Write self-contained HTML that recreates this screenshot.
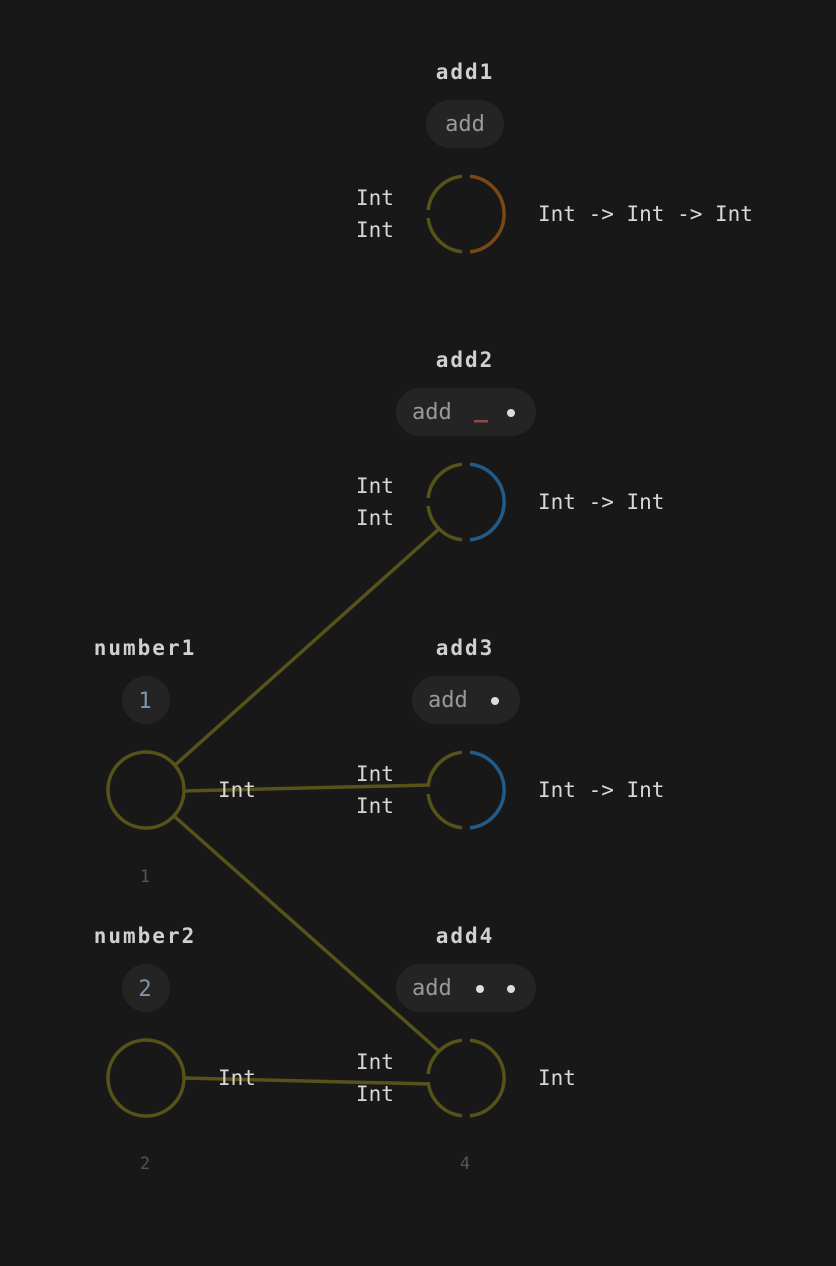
<!DOCTYPE html>
<html><head><style>
html,body{margin:0;padding:0;background:#181818;}
svg{display:block}
text{font-family:"DejaVu Sans Mono","Liberation Mono",monospace;}
.t{fill:#d0d0d0;font-size:21px;font-weight:bold;text-anchor:middle;letter-spacing:2px}
.l{fill:#d8d8d8;font-size:21px}
.p{fill:#9a9a9a;font-size:22px}
.n{fill:#555;font-size:17px;text-anchor:middle}
.ol{stroke:#56521a;stroke-width:3.5;fill:none}
</style></head><body>
<svg width="836" height="1266" viewBox="0 0 836 1266">
<defs>
<g id="ul"><path d="M -4 -37.8 A 38 38 0 0 0 -37.8 -4" class="ol"/><path d="M -37.8 4 A 38 38 0 0 0 -4 37.8" class="ol"/></g>
</defs>
<line x1="174" y1="766" x2="440" y2="528" class="ol"/>
<line x1="183" y1="791" x2="430" y2="785" class="ol"/>
<line x1="174" y1="816" x2="440" y2="1052" class="ol"/>
<line x1="183" y1="1078" x2="430" y2="1084" class="ol"/>

<text x="465" y="79" class="t">add1</text>
<rect x="426" y="100" width="78" height="48" rx="24" fill="#242424"/>
<text x="465" y="131" class="p" text-anchor="middle">add</text>
<g transform="translate(466,214)"><use href="#ul"/><path d="M 4 -37.8 A 38 38 0 0 1 4 37.8" fill="none" stroke="#7a4716" stroke-width="3.5"/></g>
<text x="356" y="205" class="l">Int</text><text x="356" y="237" class="l">Int</text>
<text x="538" y="221" class="l">Int -&gt; Int -&gt; Int</text>

<text x="465" y="367" class="t">add2</text>
<rect x="396" y="388" width="140" height="48" rx="24" fill="#242424"/>
<text x="412" y="419" class="p">add</text>
<rect x="474" y="420" width="14" height="2.5" fill="#8a4a48"/>
<circle cx="511" cy="413" r="4" fill="#ddd"/>
<g transform="translate(466,502)"><use href="#ul"/><path d="M 4 -37.8 A 38 38 0 0 1 4 37.8" fill="none" stroke="#235a86" stroke-width="3.5"/></g>
<text x="356" y="493" class="l">Int</text><text x="356" y="525" class="l">Int</text>
<text x="538" y="509" class="l">Int -&gt; Int</text>

<text x="465" y="655" class="t">add3</text>
<rect x="412" y="676" width="108" height="48" rx="24" fill="#242424"/>
<text x="428" y="707" class="p">add</text>
<circle cx="495" cy="701" r="4" fill="#ddd"/>
<g transform="translate(466,790)"><use href="#ul"/><path d="M 4 -37.8 A 38 38 0 0 1 4 37.8" fill="none" stroke="#235a86" stroke-width="3.5"/></g>
<text x="356" y="781" class="l">Int</text><text x="356" y="813" class="l">Int</text>
<text x="538" y="797" class="l">Int -&gt; Int</text>

<text x="465" y="943" class="t">add4</text>
<rect x="396" y="964" width="140" height="48" rx="24" fill="#242424"/>
<text x="412" y="995" class="p">add</text>
<circle cx="480" cy="989" r="4" fill="#ddd"/>
<circle cx="511" cy="989" r="4" fill="#ddd"/>
<g transform="translate(466,1078)"><use href="#ul"/><path d="M 4 -37.8 A 38 38 0 0 1 4 37.8" class="ol"/></g>
<text x="356" y="1069" class="l">Int</text><text x="356" y="1101" class="l">Int</text>
<text x="538" y="1085" class="l">Int</text>
<text x="465" y="1169" class="n">4</text>

<text x="145" y="655" class="t">number1</text>
<circle cx="146" cy="700" r="24" fill="#242424"/>
<text x="145" y="708" fill="#7f95ad" font-size="22" text-anchor="middle">1</text>
<circle cx="146" cy="790" r="38" class="ol"/>
<text x="218" y="797" class="l">Int</text>
<text x="145" y="882" class="n">1</text>

<text x="145" y="943" class="t">number2</text>
<circle cx="146" cy="988" r="24" fill="#242424"/>
<text x="145" y="996" fill="#7f95ad" font-size="22" text-anchor="middle">2</text>
<circle cx="146" cy="1078" r="38" class="ol"/>
<text x="218" y="1085" class="l">Int</text>
<text x="145" y="1169" class="n">2</text>
</svg>
</body></html>
